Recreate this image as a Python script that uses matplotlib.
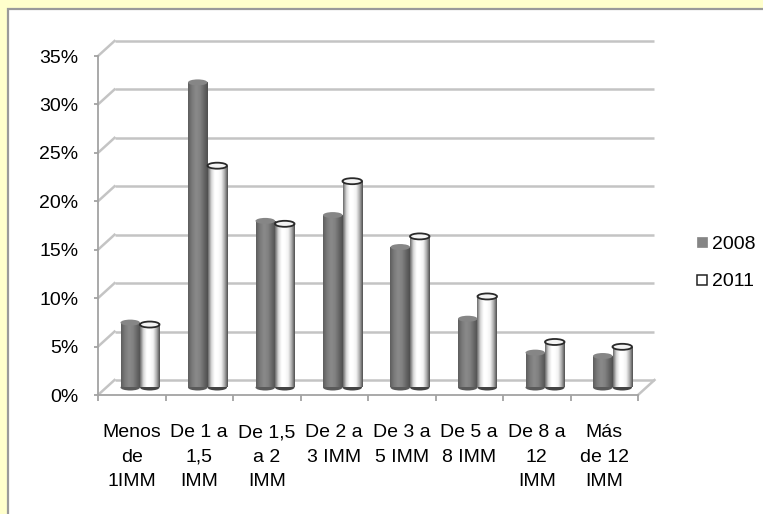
import matplotlib
matplotlib.use("Agg")
import matplotlib.pyplot as plt
import numpy as np
from matplotlib.patches import Rectangle, Ellipse
from matplotlib.lines import Line2D
from matplotlib.colors import LinearSegmentedColormap

categories = ["Menos\nde\n1IMM", "De 1 a\n1,5\nIMM", "De 1,5\na 2\nIMM", "De 2 a\n3 IMM",
              "De 3 a\n5 IMM", "De 5 a\n8 IMM", "De 8 a\n12\nIMM", "Más\nde 12\nIMM"]
series_names = ["2008", "2011"]
values_2008 = [6.7, 31.5, 17.2, 17.8, 14.5, 7.1, 3.6, 3.25]
values_2011 = [6.5, 22.9, 16.9, 21.3, 15.6, 9.4, 4.7, 4.2]
yticks = [0, 5, 10, 15, 20, 25, 30, 35]
ytick_labels = ["0%", "5%", "10%", "15%", "20%", "25%", "30%", "35%"]

plt.rcParams['font.family'] = ['Liberation Sans', 'DejaVu Sans']
FS = 14

W, H = 763, 514
fig = plt.figure(figsize=(W / 100, H / 100), dpi=100)
fig.patch.set_facecolor('#FFFFCC')
bg = Rectangle((8 / W, -0.05), 1.1, (505 / H) + 0.05, transform=fig.transFigure,
               facecolor='white', edgecolor='#9a9a9a', linewidth=1.6, zorder=-5)
fig.add_artist(bg)

left_px, right_px, bot_px, top_px = 98, 638, 395, 56
ax = fig.add_axes([left_px / W, (H - bot_px) / H, (right_px - left_px) / W, (bot_px - top_px) / H])
ax.set_zorder(2)
ax.set_facecolor('none')
n = len(categories)
ax.set_xlim(0, n)
ax.set_ylim(0, 35)

# depth offset (in data units) for back wall
px_per_x = (right_px - left_px) / n
px_per_y = (bot_px - top_px) / 35
dx = 16.5 / px_per_x
dy = 15.0 / px_per_y

grid_c = '#c4c4c4'
axis_c = '#a3a3a3'
for yv in yticks:
    ax.plot([dx, n + dx], [yv + dy, yv + dy], color=grid_c, lw=1.8, clip_on=False, zorder=1,
            solid_capstyle='butt')
    ax.plot([0, dx], [yv, yv + dy], color=grid_c, lw=1.8, clip_on=False, zorder=1)
ax.plot([n, n + dx], [0, dy], color=grid_c, lw=1.8, clip_on=False, zorder=1)

for s in ['top', 'right']:
    ax.spines[s].set_visible(False)
for s in ['left', 'bottom']:
    ax.spines[s].set_color(axis_c)
    ax.spines[s].set_linewidth(1.3)

ax.set_yticks(yticks)
ax.set_yticklabels(ytick_labels, fontsize=FS)
ax.tick_params(axis='y', length=3, color=axis_c, width=1.3, pad=11)
ax.set_xticks(np.arange(n + 1))
ax.set_xticklabels([])
ax.tick_params(axis='x', which='major', length=4.5, color=axis_c, width=1.3)
ax.set_xticks(np.arange(n) + 0.5, minor=True)
ax.set_xticklabels(categories, minor=True, fontsize=FS, linespacing=1.58, va='top')
ax.tick_params(axis='x', which='minor', length=0, pad=21)

bw = 19.5 / px_per_x
eh = 6.0 / px_per_y
x = np.arange(n) + 0.5 + dx / 2
base = dy / 2

cmap08 = LinearSegmentedColormap.from_list('c08', ['#5e5e5e', '#7a7a7a', '#8a8a8a', '#828282', '#686868', '#4f4f4f'])
cmap11 = LinearSegmentedColormap.from_list('c11', ['#6a6a6a', '#d8d8d8', '#ffffff', '#ffffff', '#f2f2f2', '#b0b0b0', '#505050'])
grad = np.linspace(0, 1, 64).reshape(1, -1)

def draw_cyl(xc, vals, cmap, top_fc, top_ec, bot_c, z):
    bars = ax.bar(xc, vals, width=bw, bottom=base, color='none', edgecolor='none', zorder=z)
    for b, v in zip(bars, vals):
        x0 = b.get_x()
        cx = x0 + bw / 2
        ax.add_patch(Ellipse((cx, base), bw, eh, facecolor=bot_c, edgecolor='none',
                             zorder=z, clip_on=False))
        im = ax.imshow(grad, cmap=cmap, aspect='auto', extent=[x0, x0 + bw, base, base + v],
                       zorder=z + 0.1, interpolation='bilinear')
        im.set_clip_path(b)
        ax.add_patch(Ellipse((cx, base + v), bw, eh, facecolor=top_fc, edgecolor=top_ec,
                             lw=1.3, zorder=z + 0.2, clip_on=False))
    return bars

draw_cyl(x - bw / 2, values_2008, cmap08, '#868686', 'none', '#5a5a5a', 3)
draw_cyl(x + bw / 2, values_2011, cmap11, '#f4f4f4', '#2a2a2a', '#444444', 4)
ax.set_xlim(0, n)
ax.set_ylim(0, 35)

handles = [Line2D([], [], linestyle='none', marker='s', markersize=7.0,
                  markerfacecolor='#858585', markeredgecolor='#858585', markeredgewidth=0.5),
           Line2D([], [], linestyle='none', marker='s', markersize=6.5,
                  markerfacecolor='white', markeredgecolor='#222222', markeredgewidth=1.1)]
fig.legend(handles, series_names, loc='center left', bbox_to_anchor=(679 / W, 1 - 263 / H),
           frameon=False, fontsize=FS, handlelength=0.6, handletextpad=0.2,
           labelspacing=1.0)

fig.savefig('out.png', dpi=100, facecolor=fig.get_facecolor())
